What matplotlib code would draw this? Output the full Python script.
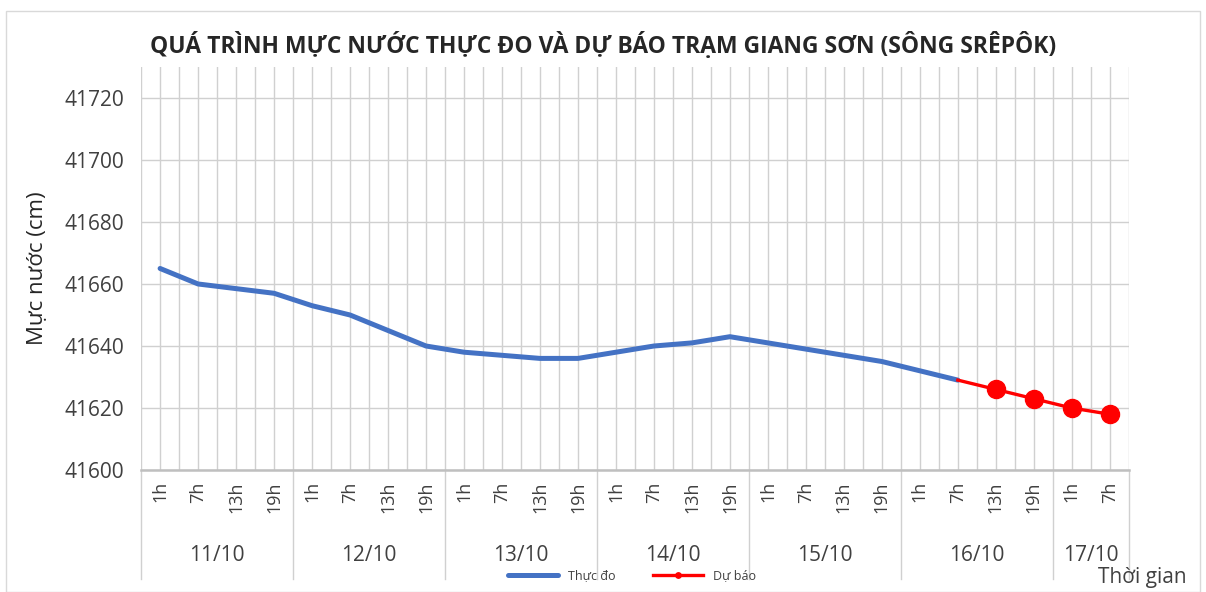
import numpy as np
import matplotlib.pyplot as plt
from matplotlib.patches import Rectangle
from matplotlib.transforms import blended_transform_factory

plt.rcParams['font.family'] = ['Open Sans', 'DejaVu Sans']

# du lieu
ngay = ["11/10", "12/10", "13/10", "14/10", "15/10", "16/10", "17/10"]
so_gio = [4, 4, 4, 4, 4, 4, 2]
gio = ["1h", "7h", "13h", "19h"] * 6 + ["1h", "7h"]

thuc_do = [41665, 41660, 41658.5, 41657, 41653, 41650, 41645, 41640,
           41638, 41637, 41636, 41636, 41638, 41640, 41641, 41643,
           41641, 41639, 41637, 41635, 41632, 41629]
du_bao_idx = [21, 22, 23, 24, 25]
du_bao = [41629, 41626, 41623, 41620, 41618]

fig = plt.figure(figsize=(12.06, 5.92), dpi=100)
ax = fig.add_axes([0.117, 0.206, 0.819, 0.681])

x = np.arange(len(thuc_do))
ax.plot(x, thuc_do, color="#4472C4", lw=3.6, solid_capstyle="round", label="Thực đo", zorder=3)
ax.plot(du_bao_idx, du_bao, color="#FF0000", lw=2.4, zorder=4, label="Dự báo",
        marker="o", markersize=13, markevery=[1, 2, 3, 4])

ax.set_xlim(-0.5, len(gio) - 0.5)
ax.set_ylim(41600, 41730)
ax.set_yticks(np.arange(41600, 41721, 20))
ax.set_xticks(np.arange(len(gio)))
ax.set_xticks(np.arange(len(gio) + 1) - 0.5, minor=True)
ax.set_xticklabels(gio, rotation=90, fontsize=13, color="#404040")
ax.tick_params(axis="x", which="both", length=0, pad=8)
ax.tick_params(axis="y", length=0, labelsize=15, labelcolor="#404040", pad=12)

ax.grid(axis="y", color="#d0d0d0", lw=1)
ax.grid(axis="x", which="both", color="#d0d0d0", lw=1)
ax.set_axisbelow(True)
for s in ["top", "right", "left"]:
    ax.spines[s].set_visible(False)
ax.spines["bottom"].set_color("#bfbfbf")
ax.spines["bottom"].set_linewidth(1.8)

# nhom ngay
tr = blended_transform_factory(ax.transData, ax.transAxes)
start = -0.5
ax.plot([start, start], [0, -0.27], transform=tr, color="#d0d0d0", lw=1, clip_on=False)
for d, n in zip(ngay, so_gio):
    end = start + n
    ax.plot([end, end], [0, -0.27], transform=tr, color="#d0d0d0", lw=1, clip_on=False)
    ax.text((start + end) / 2, -0.212, d, transform=tr, ha="center", va="center",
            fontsize=15, color="#404040")
    start = end

ax.set_ylabel("Mực nước (cm)", fontsize=16, color="#262626", labelpad=12)
fig.text(0.5, 0.923, "QUÁ TRÌNH MỰC NƯỚC THỰC ĐO VÀ DỰ BÁO TRẠM GIANG SƠN (SÔNG SRÊPÔK)",
         ha="center", va="center", fontsize=16.5, fontweight="bold", color="#262626")
fig.text(0.984, 0.025, "Thời gian", ha="right", va="center", fontsize=15, color="#404040")

leg = fig.legend(loc="center", bbox_to_anchor=(0.524, 0.027), ncol=2, frameon=False,
                 fontsize=9, handlelength=4, columnspacing=3, markerscale=0.3)
for t in leg.get_texts():
    t.set_color("#404040")

fig.add_artist(Rectangle((0.005, 0.0), 0.99, 0.982, transform=fig.transFigure,
                         fill=False, edgecolor="#d9d9d9", lw=1))

fig.savefig("out.png", dpi=100)
